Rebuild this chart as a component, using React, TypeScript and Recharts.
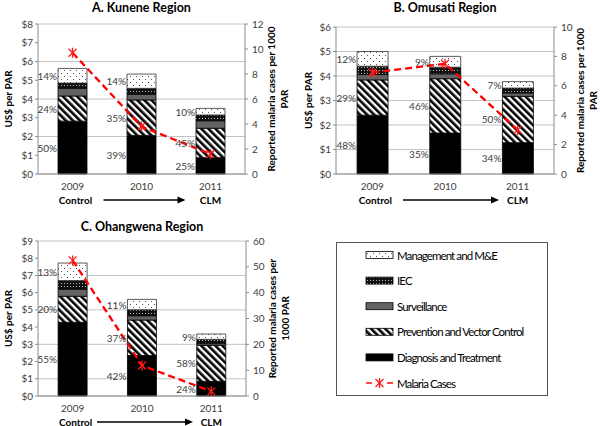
import React from "react";
import {
  ComposedChart,
  Bar,
  Line,
  XAxis,
  YAxis,
  CartesianGrid,
  LabelList,
} from "recharts";

const years = ["2009", "2010", "2011"];

// A. Kunene
const kuneneDiagnosis = [2.82, 2.06, 0.87];
const kunenePrevention = [1.34, 1.89, 1.57];
const kuneneSurveillance = [0.41, 0.3, 0.4];
const kuneneIEC = [0.28, 0.32, 0.31];
const kuneneManagement = [0.78, 0.76, 0.35];
const kuneneCases = [9.7, 3.8, 1.6];
const kuneneDiagnosisPct = ["50%", "39%", "25%"];
const kunenePreventionPct = ["24%", "35%", "45%"];
const kuneneManagementPct = ["14%", "14%", "10%"];

// B. Omusati
const omusatiDiagnosis = [2.4, 1.67, 1.28];
const omusatiPrevention = [1.44, 2.22, 1.89];
const omusatiSurveillance = [0.22, 0.2, 0.14];
const omusatiIEC = [0.34, 0.27, 0.2];
const omusatiManagement = [0.6, 0.44, 0.26];
const omusatiCases = [6.9, 7.5, 3.0];
const omusatiDiagnosisPct = ["48%", "35%", "34%"];
const omusatiPreventionPct = ["29%", "46%", "50%"];
const omusatiManagementPct = ["12%", "9%", "7%"];

// C. Ohangwena
const ohangwenaDiagnosis = [4.28, 2.35, 0.85];
const ohangwenaPrevention = [1.51, 2.06, 2.09];
const ohangwenaSurveillance = [0.41, 0.25, 0.1];
const ohangwenaIEC = [0.5, 0.35, 0.25];
const ohangwenaManagement = [1.02, 0.6, 0.31];
const ohangwenaCases = [52.5, 11.8, 1.8];
const ohangwenaDiagnosisPct = ["55%", "42%", "24%"];
const ohangwenaPreventionPct = ["20%", "37%", "58%"];
const ohangwenaManagementPct = ["13%", "11%", "9%"];

const legendNames = [
  "Management and M&E",
  "IEC",
  "Surveillance",
  "Prevention and Vector Control",
  "Diagnosis and Treatment",
  "Malaria Cases",
];

const FONT = "Lato, 'Open Sans', sans-serif";
const AXIS = "#8c8c8c";
const TXT = "#404040";

const buildRows = (diag, prev, surv, iec, mgmt, cases, dp, pp, mp) =>
  years.map((year, i) => ({
    year,
    diag: diag[i],
    prev: prev[i],
    surv: surv[i],
    iec: iec[i],
    mgmt: mgmt[i],
    cases: cases[i],
    diagPct: dp[i],
    prevPct: pp[i],
    mgmtPct: mp[i],
  }));

const fills = {
  mgmt: "url(#pMgmt)",
  iec: "url(#pIec)",
  surv: "#636363",
  prev: "url(#pPrev)",
  diag: "#000",
};

const Patterns = () => (
  <defs>
    <pattern id="pMgmt" width="6" height="6" patternUnits="userSpaceOnUse">
      <rect width="6" height="6" fill="#fff" />
      <rect x="1" y="1" width="1" height="1" fill="#555" />
      <rect x="4" y="4" width="1" height="1" fill="#555" />
    </pattern>
    <pattern id="pIec" width="3" height="3" patternUnits="userSpaceOnUse">
      <rect width="3" height="3" fill="#111" />
      <rect x="1" y="1" width="1" height="1" fill="#bbb" />
    </pattern>
    <pattern
      id="pPrev"
      width="5"
      height="5"
      patternUnits="userSpaceOnUse"
      patternTransform="rotate(-45)"
    >
      <rect width="5" height="5" fill="#fff" />
      <rect width="2.6" height="5" fill="#000" />
    </pattern>
  </defs>
);

const CaseMark = (props: any) => {
  const { cx, cy } = props;
  if (cx == null || cy == null) return null;
  const r = 4;
  return (
    <g stroke="#ff1a1a" strokeWidth={1.3}>
      <line x1={cx - r} y1={cy - r} x2={cx + r} y2={cy + r} />
      <line x1={cx - r} y1={cy + r} x2={cx + r} y2={cy - r} />
      <line x1={cx} y1={cy - r - 1} x2={cx} y2={cy + r + 1} />
    </g>
  );
};

const PctLabel = (props: any) => {
  const { x, y, height, value } = props;
  return (
    <text
      x={x - 1}
      y={y + height / 2}
      textAnchor="end"
      dominantBaseline="central"
      fontSize={10}
      fontFamily={FONT}
      fill={TXT}
    >
      {value}
    </text>
  );
};

const AxisTitle = (props: any) => {
  const { viewBox, lines, offsets } = props;
  const cy = viewBox.y + viewBox.height / 2;
  return (
    <g>
      {lines.map((l, i) => {
        const cx = viewBox.x + offsets[i];
        return (
          <text
            key={i}
            x={cx}
            y={cy}
            transform={`rotate(-90 ${cx} ${cy})`}
            textAnchor="middle"
            dominantBaseline="central"
            fontSize={10}
            fontWeight="bold"
            fontFamily={FONT}
            fill="#000"
          >
            {l}
          </text>
        );
      })}
    </g>
  );
};

const YearTick = (props: any) => {
  const { x, y, payload, index, arrow } = props;
  const row2 = y + 18;
  return (
    <g fontFamily={FONT}>
      <text x={x} y={y + 7.5} textAnchor="middle" fontSize={10} fill={TXT}>
        {payload.value}
      </text>
      {index === 0 && (
        <text x={x + 3} y={row2 + 3.5} textAnchor="middle" fontSize={10} fontWeight="bold" fill="#000">
          Control
        </text>
      )}
      {index === 2 && (
        <text x={x} y={row2 + 3.5} textAnchor="middle" fontSize={10} fontWeight="bold" fill="#000">
          CLM
        </text>
      )}
      {index === 1 && (
        <g>
          <line x1={x + arrow[0]} y1={row2} x2={x + arrow[1] - 6} y2={row2} stroke="#000" strokeWidth={1.6} />
          <polygon
            points={`${x + arrow[1]},${row2} ${x + arrow[1] - 8},${row2 - 3.5} ${x + arrow[1] - 8},${row2 + 3.5}`}
            fill="#000"
          />
        </g>
      )}
    </g>
  );
};

const Panel = ({
  title,
  titleTop,
  rows,
  left,
  top,
  height,
  marginTop,
  leftWidth,
  rightWidth,
  xHeight,
  leftTicks,
  rightTicks,
  rightLines,
  arrow,
}) => {
  const plotCenter = leftWidth + (300 - leftWidth - rightWidth) / 2;
  return (
    <div style={{ position: "absolute", left, top, width: 300, height }}>
      <div
        style={{
          position: "absolute",
          left: plotCenter - 120,
          width: 240,
          top: titleTop,
          lineHeight: "15px",
          textAlign: "center",
          fontFamily: FONT,
          fontWeight: "bold",
          fontSize: 12.5,
          color: "#000",
        }}
      >
        {title}
      </div>
      <ComposedChart
        width={300}
        height={height}
        data={rows}
        margin={{ top: marginTop, right: 0, bottom: 0, left: 0 }}
        barCategoryGap="29%"
      >
        <CartesianGrid yAxisId="left" vertical={false} stroke="#c4c4c4" />
        <XAxis
          dataKey="year"
          height={xHeight}
          stroke={AXIS}
          tickLine={false}
          interval={0}
          tick={<YearTick arrow={arrow} />}
        />
        <YAxis
          yAxisId="left"
          width={leftWidth}
          domain={[0, leftTicks[leftTicks.length - 1]]}
          ticks={leftTicks}
          tickFormatter={(v) => `$${v}`}
          stroke={AXIS}
          tickSize={3}
          tickMargin={2}
          tick={{ fontSize: 10, fill: TXT, fontFamily: FONT }}
          label={<AxisTitle lines={["US$ per PAR"]} offsets={[8]} />}
        />
        <YAxis
          yAxisId="right"
          orientation="right"
          width={rightWidth}
          domain={[0, rightTicks[rightTicks.length - 1]]}
          ticks={rightTicks}
          stroke={AXIS}
          tickSize={3}
          tickMargin={4}
          tick={{ fontSize: 10, fill: TXT, fontFamily: FONT }}
          label={<AxisTitle lines={rightLines} offsets={[26, 39]} />}
        />
        <Bar yAxisId="left" dataKey="diag" stackId="s" fill={fills.diag} stroke="#000" strokeWidth={0.8} isAnimationActive={false}>
          <LabelList dataKey="diagPct" content={<PctLabel />} />
        </Bar>
        <Bar yAxisId="left" dataKey="prev" stackId="s" fill={fills.prev} stroke="#000" strokeWidth={0.8} isAnimationActive={false}>
          <LabelList dataKey="prevPct" content={<PctLabel />} />
        </Bar>
        <Bar yAxisId="left" dataKey="surv" stackId="s" fill={fills.surv} stroke="#000" strokeWidth={0.8} isAnimationActive={false} />
        <Bar yAxisId="left" dataKey="iec" stackId="s" fill={fills.iec} stroke="#000" strokeWidth={0.8} isAnimationActive={false} />
        <Bar yAxisId="left" dataKey="mgmt" stackId="s" fill={fills.mgmt} stroke="#333" strokeWidth={0.8} isAnimationActive={false}>
          <LabelList dataKey="mgmtPct" content={<PctLabel />} />
        </Bar>
        <Line
          yAxisId="right"
          dataKey="cases"
          type="linear"
          stroke="#ff0000"
          strokeWidth={2.3}
          strokeDasharray="7 4"
          dot={<CaseMark />}
          activeDot={false}
          isAnimationActive={false}
        />
      </ComposedChart>
    </div>
  );
};

const Swatch = ({ i, y }) => {
  const x = 66;
  if (i === 5) {
    return (
      <g stroke="#ff1a1a">
        <line x1={x} y1={y} x2={x + 6} y2={y} strokeWidth={1.6} />
        <line x1={x + 21} y1={y} x2={x + 27} y2={y} strokeWidth={1.6} />
        <CaseMark cx={x + 13.5} cy={y} />
      </g>
    );
  }
  const f = [fills.mgmt, fills.iec, fills.surv, fills.prev, fills.diag][i];
  return <rect x={x} y={y - 3.5} width={27} height={7} fill={f} stroke="#000" strokeWidth={0.8} />;
};

const LegendBox = () => (
  <svg
    width={300}
    height={216}
    style={{ position: "absolute", left: 300, top: 210 }}
  >
    <Patterns />
    <rect x={36.5} y={32.5} width={211} height={153} fill="#fff" stroke="#555" />
    {legendNames.map((name, i) => {
      const y = 45 + i * 25.6;
      return (
        <g key={name}>
          <Swatch i={i} y={y} />
          <text
            x={97}
            y={y}
            dominantBaseline="central"
            fontSize={11.5}
            letterSpacing={-0.9}
            fontFamily={FONT}
            fill="#000"
          >
            {name}
          </text>
        </g>
      );
    })}
  </svg>
);

export default function App() {
  return (
    <div
      style={{
        position: "absolute",
        left: 0,
        top: 0,
        width: 600,
        height: 426,
        background: "#fff",
      }}
    >
      <LegendBox />
      <Panel
        title="A. Kunene Region"
        titleTop={0}
        rows={buildRows(
          kuneneDiagnosis,
          kunenePrevention,
          kuneneSurveillance,
          kuneneIEC,
          kuneneManagement,
          kuneneCases,
          kuneneDiagnosisPct,
          kunenePreventionPct,
          kuneneManagementPct
        )}
        left={0}
        top={0}
        height={210}
        marginTop={24}
        leftWidth={38}
        rightWidth={55}
        xHeight={36}
        leftTicks={[0, 1, 2, 3, 4, 5, 6, 7, 8]}
        rightTicks={[0, 2, 4, 6, 8, 10, 12]}
        rightLines={["Reported  malaria cases per 1000", "PAR"]}
        arrow={[-38, 44]}
      />
      <Panel
        title="B. Omusati Region"
        titleTop={0}
        rows={buildRows(
          omusatiDiagnosis,
          omusatiPrevention,
          omusatiSurveillance,
          omusatiIEC,
          omusatiManagement,
          omusatiCases,
          omusatiDiagnosisPct,
          omusatiPreventionPct,
          omusatiManagementPct
        )}
        left={300}
        top={0}
        height={210}
        marginTop={27}
        leftWidth={36}
        rightWidth={46}
        xHeight={36}
        leftTicks={[0, 1, 2, 3, 4, 5, 6]}
        rightTicks={[0, 1, 2, 3, 4, 5, 6, 7, 8, 9, 10]}
        rightLines={["Reported malaria cases per 1000", "PAR"]}
        arrow={[-42, 54]}
      />
      <Panel
        title="C. Ohangwena Region"
        titleTop={9}
        rows={buildRows(
          ohangwenaDiagnosis,
          ohangwenaPrevention,
          ohangwenaSurveillance,
          ohangwenaIEC,
          ohangwenaManagement,
          ohangwenaCases,
          ohangwenaDiagnosisPct,
          ohangwenaPreventionPct,
          ohangwenaManagementPct
        )}
        left={0}
        top={210}
        height={216}
        marginTop={31}
        leftWidth={38}
        rightWidth={54}
        xHeight={30}
        leftTicks={[0, 1, 2, 3, 4, 5, 6, 7, 8, 9]}
        rightTicks={[0, 10, 20, 30, 40, 50, 60]}
        rightLines={["Reported  malaria cases per", "1000 PAR"]}
        arrow={[-45, 51]}
      />
    </div>
  );
}
